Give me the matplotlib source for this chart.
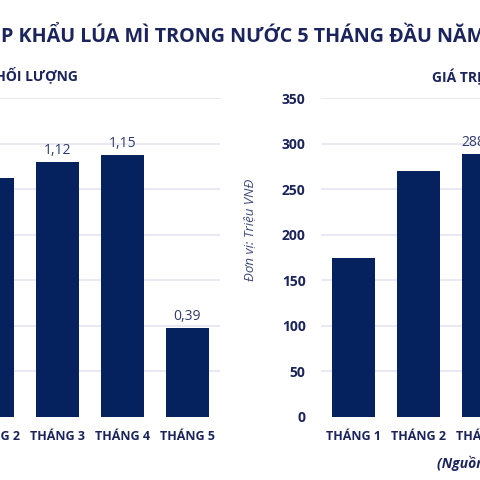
import numpy as np
import matplotlib
matplotlib.use("Agg")
import matplotlib.pyplot as plt

plt.rcParams['font.family'] = ['Open Sans', 'DejaVu Sans']

months = ["THÁNG 1", "THÁNG 2", "THÁNG 3", "THÁNG 4", "THÁNG 5"]
volume = [0.68, 1.05, 1.12, 1.15, 0.39]          # khối lượng
value = [175, 270, 288.45, 296, 100]               # giá trị, triệu VNĐ
labelled = [2, 3, 4]                               # tháng có nhãn số liệu

volume_ticks = np.arange(0, 1.41, 0.2)
value_ticks = np.arange(0, 351, 50)

BAR = "#05225f"
NAVY = "#1b245c"
LABEL = "#2e3a6c"
GRID = "#e4e5f0"

W = 480.0


def fmt(v):
    return f"{v:.2f}".rstrip("0").rstrip(".").replace(".", ",")


def panel(fig, left_px, data, ticks, show_ylabels):
    ax = fig.add_axes([left_px / W, 63 / W, 325 / W, 319 / W])
    x = np.arange(len(months))
    bars = ax.bar(x, data, width=0.66, color=BAR, zorder=3)
    ax.set_xlim(-0.5, len(months) - 0.5)
    ax.set_ylim(ticks[0], ticks[-1])
    ax.set_yticks(ticks)
    ax.set_xticks(x)
    ax.set_xticklabels(months, fontsize=9, fontweight="bold", color=NAVY)
    ax.grid(axis="y", color=GRID, linewidth=1.2, zorder=0)
    ax.yaxis.get_gridlines()[0].set_visible(False)
    for s in ax.spines.values():
        s.set_visible(False)
    ax.tick_params(length=0)
    ax.tick_params(axis="x", pad=9)
    ax.tick_params(axis="y", pad=11)
    if show_ylabels:
        ax.set_yticklabels([f"{int(t)}" for t in ticks], fontsize=10,
                           fontweight="bold", color=NAVY)
    else:
        ax.set_yticklabels([])
    for i in labelled:
        ax.annotate(fmt(data[i]), (bars[i].get_x() + bars[i].get_width() / 2, data[i]),
                    xytext=(0, 3), textcoords="offset points", ha="center",
                    va="bottom", fontsize=10, color=LABEL)
    return ax


fig = plt.figure(figsize=(4.8, 4.8), dpi=100)

ax1 = panel(fig, -105, volume, volume_ticks, False)
ax2 = panel(fig, 321, value, value_ticks, True)
ax2.set_ylabel("Đơn vị: Triệu VNĐ", fontsize=9.5, style="italic", color="#3f4b7c")
ax2.yaxis.set_label_coords(-0.2, 0.586)

fig.text(1 / W, 1 - 37 / W, "P KHẨU LÚA MÌ TRONG NƯỚC 5 THÁNG ĐẦU NĂM",
         ha="left", va="center", fontsize=14.2, fontweight="bold", color=NAVY)
fig.text(78 / W, 1 - 75 / W, "KHỐI LƯỢNG", ha="right", va="center",
         fontsize=10, fontweight="bold", color=NAVY)
fig.text(432 / W, 1 - 75 / W, "GIÁ TRỊ NHẬP KHẨU", ha="left", va="center",
         fontsize=10, fontweight="bold", color=NAVY)
fig.text(437 / W, 1 - 463 / W, "(Nguồn: Tổng cục Hải quan)", ha="left", va="center",
         fontsize=10, fontweight="bold", style="italic", color=NAVY)

fig.savefig("out.png", dpi=100)
